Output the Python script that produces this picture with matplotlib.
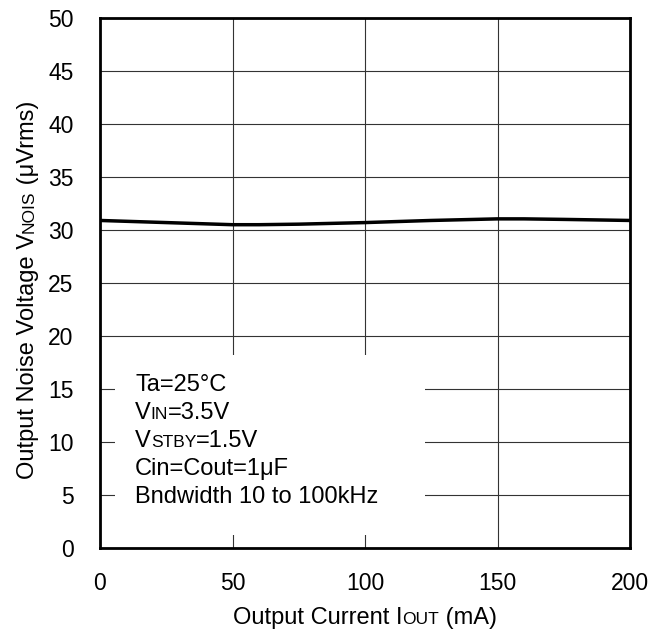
import matplotlib
matplotlib.use('Agg')
import matplotlib.pyplot as plt
from matplotlib.patches import Rectangle

plt.rcParams['font.family'] = ['Liberation Sans', 'DejaVu Sans']

# data
iout = [0, 25, 50, 60, 75, 100, 125, 150, 160, 175, 200]
vnois = [30.9, 30.7, 30.5, 30.5, 30.55, 30.7, 30.9, 31.05, 31.05, 31.0, 30.9]
xticks = [0, 50, 100, 150, 200]
yticks = list(range(0, 55, 5))

FS = 16.5    # tick labels
LFS = 17     # axis labels and conditions
SMALL = 12.5

fig = plt.figure(figsize=(6.7, 6.37), dpi=100)
ax = fig.add_axes([100 / 670, 1 - 548 / 637, 530 / 670, 530 / 637])
ax.set_xlim(0, 200)
ax.set_ylim(0, 50)
ax.set_xticks(xticks)
ax.set_yticks(yticks)
ax.tick_params(length=0, labelsize=FS)
ax.tick_params(axis='y', pad=19)
ax.tick_params(axis='x', pad=17)
ax.set_axisbelow(True)
ax.grid(True, color='#333333', lw=0.8)
for s in ax.spines.values():
    s.set_linewidth(2)
    s.set_zorder(5)

ax.plot(iout, vnois, color='black', lw=2.5, zorder=4)

# white box behind the conditions text
ax.add_patch(Rectangle((5.7, 1.2), 116.9, 17.0, facecolor='white',
                       edgecolor='none', zorder=1.5))

renderer = fig.canvas.get_renderer()


def mixed_text(pieces, x, y, rotation=0, center=True):
    # pieces: list of (string, size); x, y in figure pixels
    texts = []
    for s, size in pieces:
        t = fig.text(0, 0, s, fontsize=size, rotation=rotation,
                     rotation_mode='anchor', ha='left', va='baseline',
                     transform=None)
        texts.append(t)
    widths = []
    for t in texts:
        bb = t.get_window_extent(renderer)
        widths.append(bb.height if rotation == 90 else bb.width)
    total = sum(widths)
    pos = (y if rotation == 90 else x) - (total / 2 if center else 0)
    for t, w in zip(texts, widths):
        if rotation == 90:
            t.set_position((x, pos))
        else:
            t.set_position((pos, y))
        pos += w
    return texts


H = 637
# axis labels
mixed_text([('Output Current I', LFS), ('OUT', SMALL), (' (mA)', LFS)],
           365, H - 624)
mixed_text([('Output Noise Voltage V', LFS), ('NOIS', SMALL), (' (\u03bcVrms)', LFS)],
           34, H - 290, rotation=90)

# conditions
cond = [
    [('Ta=25\u00b0C', LFS)],
    [('V', LFS), ('IN', SMALL), ('=3.5V', LFS)],
    [('V', LFS), ('STBY', SMALL), ('=1.5V', LFS)],
    [('Cin=Cout=1\u03bcF', LFS)],
    [('Bndwidth 10 to 100kHz', LFS)],
]
for i, line in enumerate(cond):
    mixed_text(line, 135, H - (391 + i * 28), center=False)

fig.savefig('out.png', dpi=100)
